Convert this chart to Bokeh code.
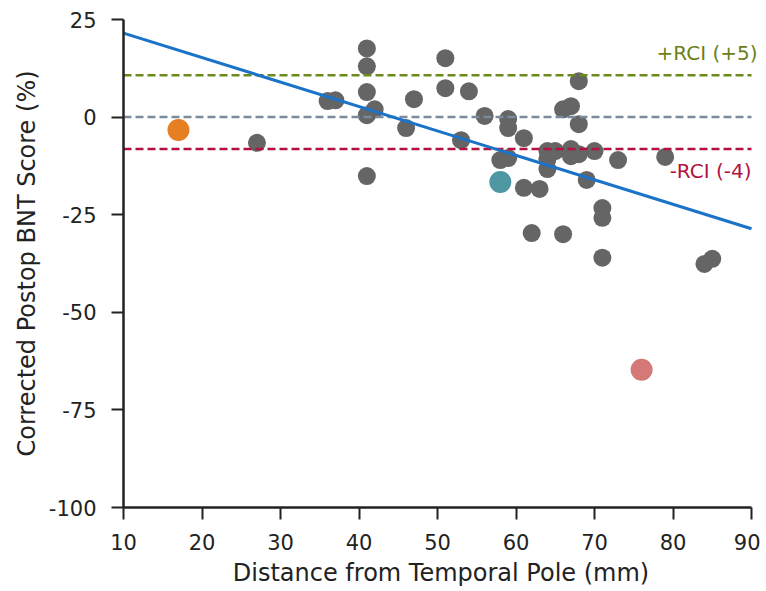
from bokeh.plotting import figure
from bokeh.models import Label, Range1d, FixedTicker
from bokeh.embed import file_html
from bokeh.resources import INLINE

# ---- data ----
gray_x = [27, 36, 37, 41, 41, 41, 41, 42, 41, 46, 47, 51, 51, 53, 54, 56, 59, 59, 61, 58, 59,
          61, 63, 62, 66, 64, 64, 64, 65, 66, 67, 68, 68, 67, 67, 68, 70, 73, 69, 71, 71, 71,
          79, 84, 85]
gray_y = [-6.6, 4.1, 4.3, 17.6, 13.0, 6.4, 0.5, 2.0, -15.1, -2.8, 4.6, 15.1, 7.4, -5.9, 6.6,
          0.3, -0.5, -2.8, -5.4, -11.0, -10.5, -18.1, -18.4, -29.7, -30.0, -8.7, -10.8, -13.3,
          -8.7, 2.0, 2.8, 9.2, -1.8, -8.2, -10.0, -9.5, -8.7, -11.0, -16.1, -23.3, -25.8, -36.0,
          -10.2, -37.6, -36.3]
hi_x = [17, 58, 76]
hi_y = [-3.3, -16.6, -64.7]
hi_colors = ["#e67e22", "#4e97a3", "#d47878"]
fit_x = [10, 90]
fit_y = [21.5, -28.6]
ref_levels = [0, 10.7, -8.2]          # zero line, +RCI, -RCI
ref_colors = ["#7a8ba0", "#6b8a1e", "#b3123f"]
x_ticks = [10, 20, 30, 40, 50, 60, 70, 80, 90]
y_ticks = [25, 0, -25, -50, -75, -100]

FONT = "DejaVu Sans"

p = figure(frame_width=635, frame_height=488,
           min_border_left=123, min_border_right=2, min_border_top=19, min_border_bottom=78,
           x_range=Range1d(10, 90.89), y_range=Range1d(-100, 25),
           output_backend="svg", toolbar_location=None)
p.outline_line_color = None
p.grid.visible = False
p.background_fill_color = "white"
p.border_fill_color = "white"

p.scatter(gray_x, gray_y, size=18, color="#656565", line_color=None)
p.scatter(hi_x, hi_y, size=22, color=hi_colors, line_color=None)

x0 = [x_ticks[0]] * len(ref_levels)
x1 = [x_ticks[-1]] * len(ref_levels)
p.segment(x0=x0, x1=x1, y0=ref_levels, y1=ref_levels, line_color=ref_colors,
          line_dash="8 4", line_width=2.5)
p.line(fit_x, fit_y, line_color="#1a73c8", line_width=3)

p.add_layout(Label(x=90, y=16.4, x_offset=6, text="+RCI (+5)", text_align="right",
                   text_baseline="middle", text_color="#6b7f1a", text_font=FONT,
                   text_font_size="20px"))
p.add_layout(Label(x=90, y=-13.8, text="-RCI (-4)", text_align="right",
                   text_baseline="middle", text_color="#b3123f", text_font=FONT,
                   text_font_size="20px"))

for ax in (p.xaxis[0], p.yaxis[0]):
    ax.axis_line_width = 2.5
    ax.axis_line_color = "#222222"
    ax.major_tick_line_color = "#222222"
    ax.major_tick_line_width = 2
    ax.major_tick_out = 12
    ax.major_tick_in = 0
    ax.minor_tick_line_color = None
    ax.major_label_text_font = FONT
    ax.major_label_text_font_size = "21px"
    ax.major_label_text_color = "#222222"
    ax.axis_label_text_font = FONT
    ax.axis_label_text_font_size = "24px"
    ax.axis_label_text_font_style = "normal"
    ax.axis_label_text_color = "#222222"

p.xaxis.bounds = (10, 90)
p.xaxis.ticker = FixedTicker(ticks=x_ticks)
p.yaxis.ticker = FixedTicker(ticks=y_ticks)
p.yaxis.major_label_overrides = {t: str(t) for t in y_ticks}
p.xaxis.axis_label = "Distance from Temporal Pole (mm)"
p.yaxis.axis_label = "Corrected Postop BNT Score (%)"
p.xaxis.major_label_standoff = 14
p.yaxis.major_label_standoff = 15
p.xaxis.axis_label_standoff = 6
p.yaxis.axis_label_standoff = 5

open("out.html", "w").write(file_html(p, INLINE))
